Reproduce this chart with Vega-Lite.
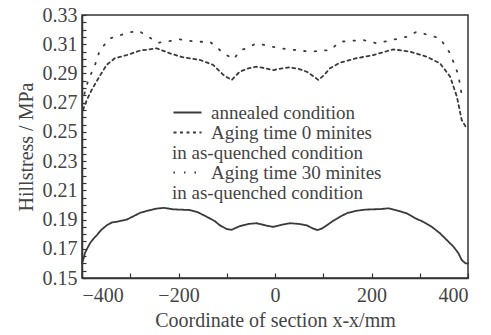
{
  "$schema": "https://vega.github.io/schema/vega-lite/v6.json",
  "width": 386,
  "height": 263,
  "autosize": {"type": "none"},
  "padding": {"left": 82, "top": 15, "right": 23, "bottom": 57},
  "background": "white",
  "config": {
    "view": {"stroke": "#333", "strokeWidth": 1.5},
    "font": "Liberation Serif",
    "axis": {
      "grid": false,
      "domainColor": "#333",
      "domainWidth": 1.5,
      "tickColor": "#333",
      "tickWidth": 1.2,
      "labelFont": "Liberation Serif",
      "labelFontSize": 20,
      "labelColor": "#444",
      "titleFont": "Liberation Serif",
      "titleFontSize": 20,
      "titleFontWeight": "normal",
      "titleColor": "#444"
    }
  },
  "data": {"values": [
    {"x": -400, "v": 0.160, "s": "a"},
    {"x": -397, "v": 0.163, "s": "a"},
    {"x": -394, "v": 0.167, "s": "a"},
    {"x": -388, "v": 0.171, "s": "a"},
    {"x": -383, "v": 0.174, "s": "a"},
    {"x": -376, "v": 0.177, "s": "a"},
    {"x": -370, "v": 0.179, "s": "a"},
    {"x": -360, "v": 0.183, "s": "a"},
    {"x": -349, "v": 0.186, "s": "a"},
    {"x": -338, "v": 0.188, "s": "a"},
    {"x": -328, "v": 0.1885, "s": "a"},
    {"x": -307, "v": 0.190, "s": "a"},
    {"x": -295, "v": 0.192, "s": "a"},
    {"x": -280, "v": 0.1945, "s": "a"},
    {"x": -265, "v": 0.196, "s": "a"},
    {"x": -245, "v": 0.1975, "s": "a"},
    {"x": -230, "v": 0.198, "s": "a"},
    {"x": -211, "v": 0.197, "s": "a"},
    {"x": -176, "v": 0.1965, "s": "a"},
    {"x": -160, "v": 0.195, "s": "a"},
    {"x": -142, "v": 0.192, "s": "a"},
    {"x": -125, "v": 0.189, "s": "a"},
    {"x": -114, "v": 0.186, "s": "a"},
    {"x": -100, "v": 0.1835, "s": "a"},
    {"x": -90, "v": 0.183, "s": "a"},
    {"x": -73, "v": 0.1855, "s": "a"},
    {"x": -55, "v": 0.187, "s": "a"},
    {"x": -38, "v": 0.1875, "s": "a"},
    {"x": -20, "v": 0.186, "s": "a"},
    {"x": -4, "v": 0.185, "s": "a"},
    {"x": 15, "v": 0.1865, "s": "a"},
    {"x": 31, "v": 0.1875, "s": "a"},
    {"x": 50, "v": 0.187, "s": "a"},
    {"x": 66, "v": 0.186, "s": "a"},
    {"x": 78, "v": 0.184, "s": "a"},
    {"x": 88, "v": 0.1828, "s": "a"},
    {"x": 98, "v": 0.184, "s": "a"},
    {"x": 107, "v": 0.186, "s": "a"},
    {"x": 120, "v": 0.189, "s": "a"},
    {"x": 135, "v": 0.192, "s": "a"},
    {"x": 150, "v": 0.1945, "s": "a"},
    {"x": 169, "v": 0.196, "s": "a"},
    {"x": 187, "v": 0.1968, "s": "a"},
    {"x": 204, "v": 0.197, "s": "a"},
    {"x": 220, "v": 0.1972, "s": "a"},
    {"x": 235, "v": 0.1977, "s": "a"},
    {"x": 255, "v": 0.196, "s": "a"},
    {"x": 273, "v": 0.1943, "s": "a"},
    {"x": 290, "v": 0.191, "s": "a"},
    {"x": 307, "v": 0.1885, "s": "a"},
    {"x": 325, "v": 0.185, "s": "a"},
    {"x": 342, "v": 0.1806, "s": "a"},
    {"x": 356, "v": 0.176, "s": "a"},
    {"x": 370, "v": 0.1714, "s": "a"},
    {"x": 380, "v": 0.167, "s": "a"},
    {"x": 387, "v": 0.1623, "s": "a"},
    {"x": 395, "v": 0.160, "s": "a"},
    {"x": 400, "v": 0.160, "s": "a"},

    {"x": -398, "v": 0.265, "s": "b"},
    {"x": -390, "v": 0.2718, "s": "b"},
    {"x": -380, "v": 0.2787, "s": "b"},
    {"x": -366, "v": 0.2867, "s": "b"},
    {"x": -349, "v": 0.2958, "s": "b"},
    {"x": -332, "v": 0.3004, "s": "b"},
    {"x": -307, "v": 0.3026, "s": "b"},
    {"x": -280, "v": 0.3056, "s": "b"},
    {"x": -245, "v": 0.3072, "s": "b"},
    {"x": -218, "v": 0.3038, "s": "b"},
    {"x": -190, "v": 0.301, "s": "b"},
    {"x": -155, "v": 0.2992, "s": "b"},
    {"x": -128, "v": 0.2958, "s": "b"},
    {"x": -107, "v": 0.289, "s": "b"},
    {"x": -90, "v": 0.2855, "s": "b"},
    {"x": -73, "v": 0.2912, "s": "b"},
    {"x": -55, "v": 0.2935, "s": "b"},
    {"x": -38, "v": 0.2946, "s": "b"},
    {"x": -20, "v": 0.2935, "s": "b"},
    {"x": -4, "v": 0.2923, "s": "b"},
    {"x": 15, "v": 0.2935, "s": "b"},
    {"x": 31, "v": 0.2942, "s": "b"},
    {"x": 50, "v": 0.293, "s": "b"},
    {"x": 66, "v": 0.2912, "s": "b"},
    {"x": 80, "v": 0.288, "s": "b"},
    {"x": 90, "v": 0.2855, "s": "b"},
    {"x": 102, "v": 0.289, "s": "b"},
    {"x": 114, "v": 0.2935, "s": "b"},
    {"x": 135, "v": 0.2974, "s": "b"},
    {"x": 169, "v": 0.3004, "s": "b"},
    {"x": 204, "v": 0.3026, "s": "b"},
    {"x": 245, "v": 0.3065, "s": "b"},
    {"x": 280, "v": 0.3049, "s": "b"},
    {"x": 314, "v": 0.3015, "s": "b"},
    {"x": 342, "v": 0.2969, "s": "b"},
    {"x": 363, "v": 0.2878, "s": "b"},
    {"x": 377, "v": 0.2741, "s": "b"},
    {"x": 387, "v": 0.2581, "s": "b"},
    {"x": 397, "v": 0.2525, "s": "b"},

    {"x": -395, "v": 0.276, "s": "c"},
    {"x": -387, "v": 0.2855, "s": "c"},
    {"x": -373, "v": 0.2958, "s": "c"},
    {"x": -363, "v": 0.306, "s": "c"},
    {"x": -342, "v": 0.314, "s": "c"},
    {"x": -304, "v": 0.3179, "s": "c"},
    {"x": -283, "v": 0.3192, "s": "c"},
    {"x": -242, "v": 0.311, "s": "c"},
    {"x": -197, "v": 0.3133, "s": "c"},
    {"x": -162, "v": 0.3117, "s": "c"},
    {"x": -135, "v": 0.3117, "s": "c"},
    {"x": -110, "v": 0.3049, "s": "c"},
    {"x": -87, "v": 0.2997, "s": "c"},
    {"x": -69, "v": 0.306, "s": "c"},
    {"x": -38, "v": 0.3106, "s": "c"},
    {"x": 10, "v": 0.3072, "s": "c"},
    {"x": 73, "v": 0.3049, "s": "c"},
    {"x": 114, "v": 0.306, "s": "c"},
    {"x": 135, "v": 0.3117, "s": "c"},
    {"x": 183, "v": 0.3129, "s": "c"},
    {"x": 211, "v": 0.3106, "s": "c"},
    {"x": 273, "v": 0.3151, "s": "c"},
    {"x": 294, "v": 0.3186, "s": "c"},
    {"x": 342, "v": 0.314, "s": "c"},
    {"x": 363, "v": 0.3038, "s": "c"},
    {"x": 380, "v": 0.289, "s": "c"},
    {"x": 387, "v": 0.2752, "s": "c"}
  ]},
  "mark": {"type": "line", "color": "#3a3a3a", "strokeWidth": 1.8, "strokeCap": "round"},
  "encoding": {
    "x": {
      "field": "x", "type": "quantitative",
      "scale": {"domain": [-400, 400], "nice": false, "zero": false},
      "axis": {
        "title": "Coordinate of section x-x/mm",
        "values": [-400, -300, -200, -100, 0, 100, 200, 300, 400],
        "labelExpr": "datum.value % 200 == 0 ? format(datum.value, 'd') : ''",
        "tickSize": -5,
        "labelPadding": 12,
        "titlePadding": 5
      }
    },
    "y": {
      "field": "v", "type": "quantitative",
      "scale": {"domain": [0.15, 0.33], "nice": false, "zero": false},
      "axis": {
        "title": "Hillstress / MPa",
        "values": [0.15, 0.155, 0.16, 0.165, 0.17, 0.175, 0.18, 0.185, 0.19, 0.195, 0.2, 0.205, 0.21, 0.215, 0.22, 0.225, 0.23, 0.235, 0.24, 0.245, 0.25, 0.255, 0.26, 0.265, 0.27, 0.275, 0.28, 0.285, 0.29, 0.295, 0.3, 0.305, 0.31, 0.315, 0.32, 0.325, 0.33],
        "labelExpr": "abs(round((datum.value - 0.15) * 1000) % 20) < 0.5 ? format(datum.value, '.2f') : ''",
        "tickSize": -4,
        "labelPadding": 9,
        "titlePadding": 6
      }
    },
    "strokeDash": {
      "field": "s", "type": "nominal",
      "scale": {"domain": ["a", "b", "b2", "c", "c2"], "range": [[1, 0], [3, 3.5], [1, 0], [1.5, 9], [1, 0]]},
      "legend": {
        "orient": "none",
        "legendX": 96,
        "legendY": 88,
        "title": null,
        "symbolType": "M-1.87,0L1.87,0",
        "symbolSize": 225,
        "symbolStrokeWidth": 1.8,
        "symbolStrokeColor": "#3a3a3a",
        "labelFont": "Liberation Serif",
        "labelFontSize": 19,
        "labelColor": "#444",
        "labelLimit": 400,
        "labelOffset": 14,
        "rowPadding": 0,
        "labelExpr": "datum.label == 'a' ? 'annealed condition' : datum.label == 'b' ? 'Aging time 0 minites' : datum.label == 'c' ? 'Aging time 30 minites' : 'in as-quenched condition'",
        "encode": {
          "labels": {"update": {
            "dx": {"signal": "datum.value == 'b2' || datum.value == 'c2' ? -39 : 0"}
          }},
          "symbols": {"update": {
            "opacity": {"signal": "datum.value == 'b2' || datum.value == 'c2' ? 0 : 1"}
          }}
        }
      }
    }
  }
}
